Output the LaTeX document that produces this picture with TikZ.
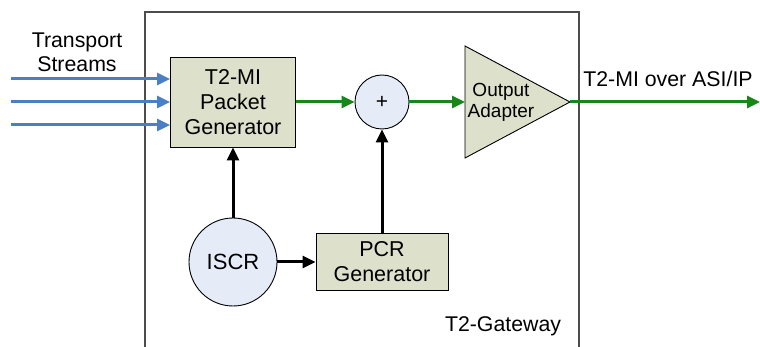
\documentclass[tikz,border=0pt]{standalone}
\usepackage{fontspec}
\setmainfont{Liberation Sans}
\usetikzlibrary{arrows.meta}
\usetikzlibrary{positioning}
\definecolor{boxfill}{RGB}{221,224,203}
\definecolor{circfill}{RGB}{230,236,247}
\definecolor{tsblue}{RGB}{74,126,197}
\definecolor{outgreen}{RGB}{24,134,24}
\tikzset{>={Triangle[length=13pt,width=12pt]}}
\tikzset{blk/.style={draw,fill=boxfill,line width=0.9pt,align=center,inner sep=0pt,font=\fontsize{21.5}{25}\selectfont}}
\tikzset{circ/.style={draw,circle,fill=circfill,line width=0.9pt,inner sep=0pt}}
\tikzset{lbl/.style={align=center,inner sep=0pt,font=\fontsize{21.3}{24}\selectfont}}
\tikzset{ts/.style={->,draw=tsblue,line width=3pt}}
\tikzset{grn/.style={->,draw=outgreen,line width=3pt}}
\tikzset{blkarr/.style={->,draw=black,line width=3pt}}

\begin{document}
\begin{tikzpicture}[x=1pt,y=-1pt]
\useasboundingbox (0,0) rectangle (760,347);
% gateway frame, open at the bottom
\draw[black!70, line width=1.3pt] (145,350) -- (145,12) -- (579,12) -- (579,350);

\node[blk, minimum width=125pt, minimum height=90pt] (gen) at (233,102) {T2-MI\\Packet\\Generator};
\node[circ, minimum size=54pt, font=\fontsize{21}{22}\selectfont] (sum) at (382,102) {+};
\node[circ, minimum size=88pt, font=\fontsize{22}{24}\selectfont] (iscr) at (233,262) {ISCR};
\node[blk, minimum width=132pt, minimum height=57pt] (pcr) at (382,262) {PCR\\Generator};

% output adapter
\draw[fill=boxfill, line width=0.9pt] (465,46) -- (570,102) -- (465,158) -- cycle;
\coordinate (adapt) at (465,102);
\coordinate (apex) at (570,102);
\node[align=center, inner sep=0pt, font=\fontsize{19}{21}\selectfont] (adtxt) at (501,102) {Output\\Adapter};

\node[lbl] (tslbl) at (77,52) {Transport\\Streams};
\node[lbl] (outlbl) at (668,79) {T2-MI over ASI/IP};
\node[lbl] (gw) at (503,326) {T2-Gateway};

\coordinate (in1) at (11,79);
\coordinate (in2) at (11,102);
\coordinate (in3) at (11,125);
\coordinate (out) at (760,102);

\draw[ts] (in1) -- (in1 -| gen.west);
\draw[ts] (in2) -- (in2 -| gen.west);
\draw[ts] (in3) -- (in3 -| gen.west);

\draw[grn] (gen) -- (sum);
\draw[grn] (sum) -- (adapt);
\draw[grn] (apex) -- (out);

\draw[blkarr] (iscr) -- (gen);
\draw[blkarr] (pcr) -- (sum);
\draw[blkarr] (iscr) -- (pcr);
\end{tikzpicture}
\end{document}
